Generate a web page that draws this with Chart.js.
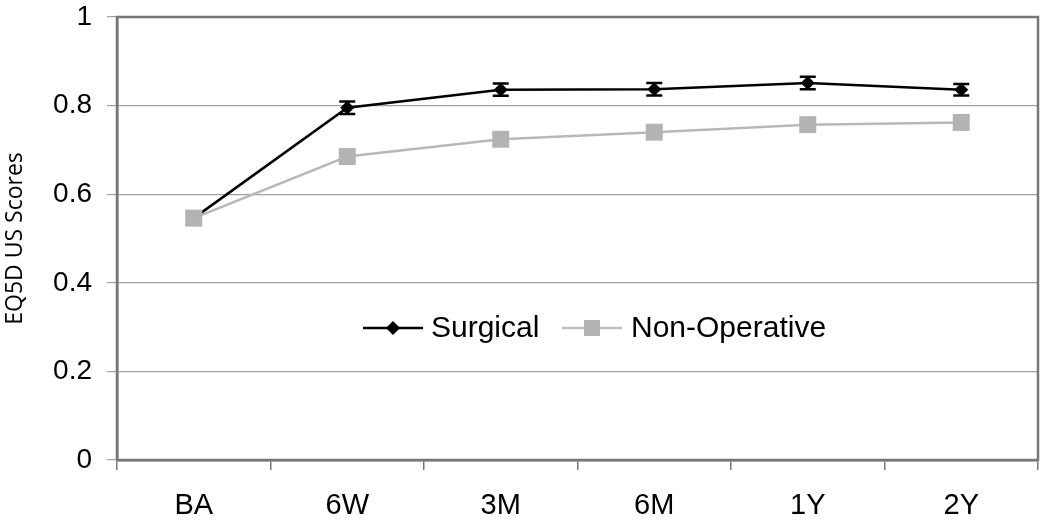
<!DOCTYPE html>
<html>
<head>
<meta charset="utf-8">
<script src="https://cdn.jsdelivr.net/npm/chart.js@4"></script>
<style>
  html, body { margin: 0; padding: 0; background: #fff; }
  #wrap { width: 1050px; height: 525px; }
</style>
</head>
<body>
<div id="wrap"><canvas id="myChart" width="1050" height="525"></canvas></div>
<script>
var timepoints = ['BA', '6W', '3M', '6M', '1Y', '2Y'];
var surgical = [0.546, 0.795, 0.836, 0.837, 0.851, 0.836];
var surgicalErr = [0.013, 0.014, 0.014, 0.014, 0.014, 0.013];
var nonOperative = [0.546, 0.685, 0.724, 0.740, 0.757, 0.762];
var nonOperativeErr = [0.013, 0.013, 0.013, 0.013, 0.013, 0.014];
var yTicks = [0, 0.2, 0.4, 0.6, 0.8, 1];

// error bars with caps, drawn right after each dataset so stacking stays right
var errorBars = {
    id: 'errorBars',
    afterDatasetDraw: function (chart, args) {
        var ctx = chart.ctx;
        var ys = chart.scales.y;
        var ds = chart.data.datasets[args.index];
        ctx.save();
        ctx.strokeStyle = ds.errColor;
        ctx.lineWidth = 2.5;
        args.meta.data.forEach(function (pt, j) {
            var v = ds.data[j], e = ds.err[j];
            var top = ys.getPixelForValue(v + e);
            var bot = ys.getPixelForValue(v - e);
            ctx.beginPath();
            ctx.moveTo(pt.x, top); ctx.lineTo(pt.x, bot);
            ctx.moveTo(pt.x - 8, top); ctx.lineTo(pt.x + 8, top);
            ctx.moveTo(pt.x - 8, bot); ctx.lineTo(pt.x + 8, bot);
            ctx.stroke();
        });
        ctx.restore();
    }
};

// frame around plot area and legend inside it
var frameAndLegend = {
    id: 'frameAndLegend',
    afterDraw: function (chart) {
        var ctx = chart.ctx;
        var a = chart.chartArea;
        ctx.save();
        ctx.strokeStyle = '#777';
        ctx.lineWidth = 2.5;
        ctx.strokeRect(a.left, a.top, a.right - a.left, a.bottom - a.top);

        var y = 328;
        ctx.font = '30px "Liberation Sans", Arial, sans-serif';
        ctx.textBaseline = 'middle';
        // Surgical
        ctx.strokeStyle = '#000';
        ctx.lineWidth = 2.5;
        ctx.beginPath(); ctx.moveTo(363, y); ctx.lineTo(423, y); ctx.stroke();
        ctx.fillStyle = '#000';
        ctx.beginPath();
        ctx.moveTo(393, y - 7); ctx.lineTo(400, y); ctx.lineTo(393, y + 7); ctx.lineTo(386, y);
        ctx.closePath(); ctx.fill();
        ctx.fillText('Surgical', 431, y + 1);
        // Non-Operative
        ctx.strokeStyle = '#c0c0c0';
        ctx.beginPath(); ctx.moveTo(562, y); ctx.lineTo(622, y); ctx.stroke();
        ctx.fillStyle = '#b3b3b3';
        ctx.fillRect(584, y - 8, 16, 16);
        ctx.fillStyle = '#000';
        ctx.fillText('Non-Operative', 631, y + 1);
        ctx.restore();
    }
};

var ctx = document.getElementById('myChart').getContext('2d');
var myChart = new Chart(ctx, {
    type: 'line',
    data: {
        labels: timepoints,
        datasets: [{
            label: 'Non-Operative',
            data: nonOperative,
            err: nonOperativeErr,
            errColor: '#b3b3b3',
            borderColor: '#b8b8b8',
            backgroundColor: '#b3b3b3',
            borderWidth: 2.5,
            pointStyle: 'rect',
            pointRadius: 12,
            pointBorderWidth: 0,
            tension: 0
        }, {
            label: 'Surgical',
            data: surgical,
            err: surgicalErr,
            errColor: '#000',
            borderColor: '#000',
            backgroundColor: '#000',
            borderWidth: 2.5,
            pointStyle: 'rectRot',
            pointRadius: 7,
            pointBorderWidth: 0,
            tension: 0
        }]
    },
    options: {
        responsive: false,
        animation: false,
        layout: { padding: { top: 17, right: 3, left: 0, bottom: 0 } },
        plugins: {
            legend: { display: false },
            tooltip: { enabled: false }
        },
        scales: {
            x: {
                offset: true,
                grid: {
                    offset: true,
                    drawOnChartArea: false,
                    drawTicks: true,
                    tickLength: 10,
                    color: '#777',
                    lineWidth: 1.5
                },
                border: { color: '#777', width: 2.5 },
                ticks: {
                    color: '#000',
                    padding: 19,
                    maxRotation: 0,
                    font: { family: '"Liberation Sans", Arial, sans-serif', size: 29 }
                },
                afterFit: function (s) { s.height = 65; s.paddingLeft = 0; s.paddingRight = 0; }
            },
            y: {
                min: 0,
                max: 1,
                afterBuildTicks: function (s) {
                    s.ticks = yTicks.map(function (v) { return { value: v }; });
                },
                grid: {
                    color: '#a0a0a0',
                    lineWidth: 1.2,
                    tickLength: 10
                },
                border: { color: '#777', width: 2.5 },
                ticks: {
                    color: '#000',
                    padding: 15,
                    font: { family: '"Liberation Sans", Arial, sans-serif', size: 28 },
                    callback: function (v) { return String(v); }
                },
                title: {
                    display: true,
                    text: 'EQ5D US Scores',
                    color: '#000',
                    font: { family: '"Open Sans", sans-serif', size: 23 },
                    padding: { top: 2, bottom: 4 }
                },
                afterFit: function (s) { s.width = 117; s.paddingTop = 0; s.paddingBottom = 0; }
            }
        }
    },
    plugins: [errorBars, frameAndLegend]
});
</script>
</body>
</html>
